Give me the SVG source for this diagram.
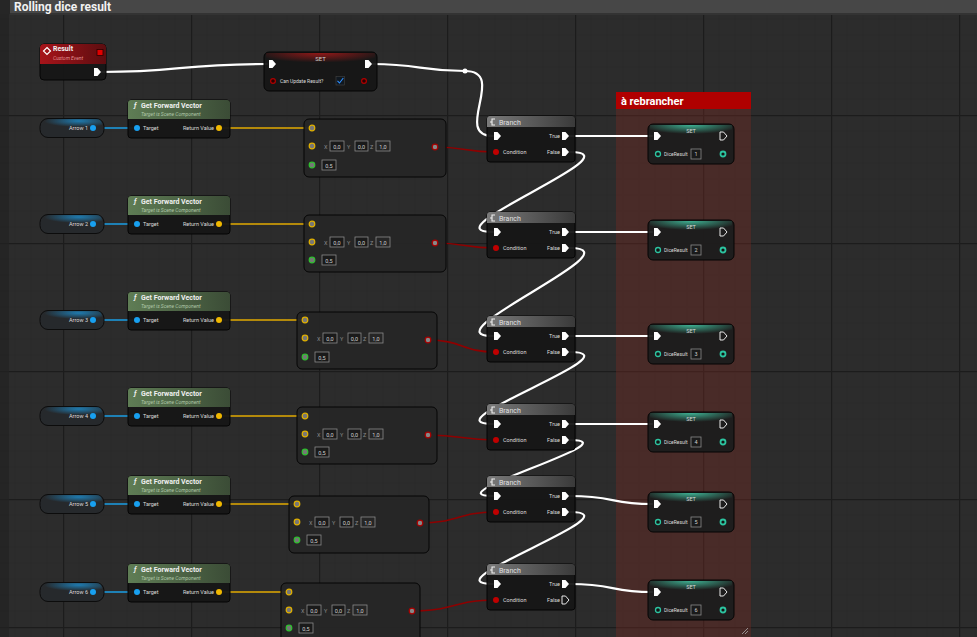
<svg xmlns="http://www.w3.org/2000/svg" width="977" height="637" viewBox="0 0 977 637">
<defs>
<pattern id="grid" x="63" y="115" width="128" height="128" patternUnits="userSpaceOnUse">
<rect width="128" height="128" fill="#2c2c2c"/>
<path d="M16 0V128M32 0V128M48 0V128M64 0V128M80 0V128M96 0V128M112 0V128M0 16H128M0 32H128M0 48H128M0 64H128M0 80H128M0 96H128M0 112H128" stroke="#292929" stroke-width="1" fill="none"/>
<path d="M0.5 0V128M0 0.5H128" stroke="#1c1c1c" stroke-width="1.5" fill="none"/>
</pattern>
<linearGradient id="gGreen" x1="0" y1="0" x2="1" y2="0"><stop offset="0" stop-color="#5f7d55"/><stop offset="1" stop-color="#3b4c36"/></linearGradient>
<linearGradient id="gRed" x1="0" y1="0" x2="1" y2="0"><stop offset="0" stop-color="#a8141a"/><stop offset="1" stop-color="#5c0d10"/></linearGradient>
<linearGradient id="gGray" x1="0" y1="0" x2="1" y2="0"><stop offset="0" stop-color="#7a7a7a"/><stop offset="1" stop-color="#3a3a3a"/></linearGradient>
<radialGradient id="gSetRed" cx="0.5" cy="0" r="0.6"><stop offset="0" stop-color="#a01818" stop-opacity="0.9"/><stop offset="1" stop-color="#a01818" stop-opacity="0"/></radialGradient>
<radialGradient id="gSetTeal" cx="0.5" cy="0" r="0.6"><stop offset="0" stop-color="#3fb898" stop-opacity="0.95"/><stop offset="1" stop-color="#3fb898" stop-opacity="0"/></radialGradient>
<radialGradient id="gBlue" cx="0.6" cy="0.2" r="0.6"><stop offset="0" stop-color="#1d8fd0" stop-opacity="0.8"/><stop offset="1" stop-color="#1d8fd0" stop-opacity="0"/></radialGradient>
<path id="exec" d="M-3,-4 L0.5,-4 L4,0 L0.5,4 L-3,4 Z"/>
</defs>
<style>
text{font-family:Roboto,"Liberation Sans",Arial,sans-serif;fill:#d8d8d8}
.body{fill:#161616;stroke:#050505;stroke-width:1;fill-opacity:0.95}
.title{font-size:7px;font-weight:bold;fill:#f0f0f0}
.sub{font-size:5px;font-style:italic}
.lbl{font-size:5.5px;fill:#dcdcdc}
.val{font-size:5.5px;fill:#d0d0d0}
.box{fill:#1a1a1a;stroke:#8a8a8a;stroke-width:0.8}
.ex{fill:#ffffff}
.exo{fill:none;stroke:#ffffff;stroke-width:0.9}
.wexec{fill:none;stroke:#ffffff;stroke-width:2.2;stroke-linecap:round}
.wblue{fill:none;stroke:#1a9ee4;stroke-width:1.6}
.wyel{fill:none;stroke:#e2aa00;stroke-width:1.6}
.wred{fill:none;stroke:#8e0000;stroke-width:1.6}
.pblue{fill:#18a0f0}
.pyel{fill:#777;stroke:#e0b000;stroke-width:1.2}
.pgrn{fill:#777;stroke:#30c030;stroke-width:1.2}
.pred{fill:#888;stroke:#a80000;stroke-width:1.2}
.pteal{fill:#141414;stroke:#2cc4a0;stroke-width:1.3}
</style>

<!-- background -->
<rect width="977" height="637" fill="url(#grid)"/>
<rect x="0" y="0" width="9" height="637" fill="#222222" opacity="0.7"/>

<!-- comment: Rolling dice result -->
<g id="comment-rolling">
<rect x="0" y="0" width="977" height="14" fill="#262626"/>
<rect x="10" y="0" width="967" height="13" fill="#474747"/>
<rect x="10" y="13" width="967" height="2" fill="#333333"/>
<text x="14" y="10.5" style="font-size:12px;font-weight:bold;fill:#f2f2f2">Rolling dice result</text>
</g>

<!-- comment: à rebrancher -->
<g id="comment-rebrancher">
<rect x="616" y="92" width="135" height="545" fill="#7a2a22" fill-opacity="0.38"/>
<rect x="616" y="92" width="135" height="17" fill="#b00000"/>
<text x="621" y="105" style="font-size:11px;font-weight:bold;fill:#ffffff">à rebrancher</text>
<path d="M742,634 L748,628 M745,634 L748,631" stroke="#aaa" stroke-width="0.8"/>
</g>

<!-- connectors -->
<g id="connectors">
<!-- exec chain -->
<path class="wexec" d="M101,72 C180,72 180,64 267,64"/>
<path class="wexec" d="M372,64 C420,64 420,71 465,71"/>
<path class="wexec" d="M465,71 C508,71 452,136 493,136"/>
<circle cx="465" cy="71" r="2.5" fill="#ffffff"/>
<!-- false chain -->
<path class="wexec" d="M570,152 C640,152 425,232 493,232"/>
<path class="wexec" d="M570,248 C640,248 425,336 493,336"/>
<path class="wexec" d="M570,352 C640,352 425,424 493,424"/>
<path class="wexec" d="M570,440 C635,440 430,496 493,496"/>
<path class="wexec" d="M570,512 C640,512 425,584 493,584"/>
<!-- true to SET -->
<path class="wexec" d="M570,136 L652,136"/>
<path class="wexec" d="M570,232 L652,232"/>
<path class="wexec" d="M570,336 L652,336"/>
<path class="wexec" d="M570,424 L652,424"/>
<path class="wexec" d="M570,496 C615,496 610,504 652,504"/>
<path class="wexec" d="M570,584 C615,584 610,592 652,592"/>
<!-- blue -->
<path class="wblue" d="M93,128 L137,128"/>
<path class="wblue" d="M93,224 L137,224"/>
<path class="wblue" d="M93,320 L137,320"/>
<path class="wblue" d="M93,416 L137,416"/>
<path class="wblue" d="M93,504 L137,504"/>
<path class="wblue" d="M93,592 L137,592"/>
<!-- yellow -->
<path class="wyel" d="M219,128 L312,128"/>
<path class="wyel" d="M219,224 L312,224"/>
<path class="wyel" d="M219,320 L305,320"/>
<path class="wyel" d="M219,416 L305,416"/>
<path class="wyel" d="M219,504 L297,504"/>
<path class="wyel" d="M219,592 L289,592"/>
<!-- red -->
<path class="wred" d="M435,147 C465,147 465,152 495,152"/>
<path class="wred" d="M435,243 C465,243 465,248 495,248"/>
<path class="wred" d="M428,340 C462,340 462,352 495,352"/>
<path class="wred" d="M428,435 C462,435 462,440 495,440"/>
<path class="wred" d="M420,523 C458,523 458,512 495,512"/>
<path class="wred" d="M412,611 C454,611 454,600 495,600"/>
</g>

<!-- Result custom event -->
<g id="node-result">
<rect class="body" x="40" y="44" width="66" height="36" rx="4"/>
<path d="M40,64 V48 Q40,44 44,44 H102 Q106,44 106,48 V64 Z" fill="url(#gRed)"/>
<path d="M47,47.5 L50.5,51 L47,54.5 L43.5,51 Z" fill="none" stroke="#fff" stroke-width="1.2"/>
<text class="title" x="53" y="51">Result</text>
<text class="sub" x="53" y="60" style="fill:#e09090">Custom Event</text>
<rect x="97" y="49.5" width="6" height="6" fill="#e00000" stroke="#2a0000" stroke-width="0.8"/>
<use href="#exec" class="ex" x="97" y="72"/>
</g>

<!-- SET Can Update Result? -->
<g id="node-set-top">
<rect class="body" x="264" y="52" width="113" height="39" rx="5"/>
<rect x="266" y="53" width="109" height="16" fill="url(#gSetRed)"/>
<text x="320.5" y="61" text-anchor="middle" style="font-size:6px;fill:#d0d0d0">SET</text>
<use href="#exec" class="ex" x="272" y="64"/>
<use href="#exec" class="ex" x="368" y="64"/>
<circle cx="273" cy="81" r="2.4" fill="#2a0000" stroke="#b00000" stroke-width="1.2"/>
<text class="lbl" x="280" y="83" style="font-size:5px">Can Update Result?</text>
<rect x="336" y="76.5" width="8.5" height="8.5" fill="#101820" stroke="#444" stroke-width="0.6"/>
<path d="M337.5,80.8 L339.5,83 L343.3,78" fill="none" stroke="#2f8fff" stroke-width="1.1"/>
<circle cx="364" cy="81" r="2.4" fill="#2a0000" stroke="#b00000" stroke-width="1.2"/>
</g>

<!-- Arrow getters -->
<g id="node-arrow-1"><rect x="40" y="118.5" width="64" height="19" rx="8" fill="#26292c" stroke="#0c0c0c"/><rect x="44" y="119" width="58" height="10" rx="5" fill="url(#gBlue)"/><text class="lbl" x="88" y="130" text-anchor="end">Arrow 1</text><circle class="pblue" cx="93" cy="128" r="3"/></g>
<g id="node-arrow-2"><rect x="40" y="214.5" width="64" height="19" rx="8" fill="#26292c" stroke="#0c0c0c"/><rect x="44" y="215" width="58" height="10" rx="5" fill="url(#gBlue)"/><text class="lbl" x="88" y="226" text-anchor="end">Arrow 2</text><circle class="pblue" cx="93" cy="224" r="3"/></g>
<g id="node-arrow-3"><rect x="40" y="310.5" width="64" height="19" rx="8" fill="#26292c" stroke="#0c0c0c"/><rect x="44" y="311" width="58" height="10" rx="5" fill="url(#gBlue)"/><text class="lbl" x="88" y="322" text-anchor="end">Arrow 3</text><circle class="pblue" cx="93" cy="320" r="3"/></g>
<g id="node-arrow-4"><rect x="40" y="406.5" width="64" height="19" rx="8" fill="#26292c" stroke="#0c0c0c"/><rect x="44" y="407" width="58" height="10" rx="5" fill="url(#gBlue)"/><text class="lbl" x="88" y="418" text-anchor="end">Arrow 4</text><circle class="pblue" cx="93" cy="416" r="3"/></g>
<g id="node-arrow-5"><rect x="40" y="494.5" width="64" height="19" rx="8" fill="#26292c" stroke="#0c0c0c"/><rect x="44" y="495" width="58" height="10" rx="5" fill="url(#gBlue)"/><text class="lbl" x="88" y="506" text-anchor="end">Arrow 5</text><circle class="pblue" cx="93" cy="504" r="3"/></g>
<g id="node-arrow-6"><rect x="40" y="582.5" width="64" height="19" rx="8" fill="#26292c" stroke="#0c0c0c"/><rect x="44" y="583" width="58" height="10" rx="5" fill="url(#gBlue)"/><text class="lbl" x="88" y="594" text-anchor="end">Arrow 6</text><circle class="pblue" cx="93" cy="592" r="3"/></g>

<!-- Get Forward Vector nodes -->
<g id="node-gfv-1" transform="translate(128,100)"><rect class="body" x="0" y="0" width="102" height="38" rx="3"/><path d="M0,19 V3 Q0,0 3,0 H99 Q102,0 102,3 V19 Z" fill="url(#gGreen)"/><text class="title" x="6" y="8" style="font-style:italic">ƒ</text><text class="title" x="13" y="8">Get Forward Vector</text><text class="sub" x="13" y="16" style="fill:#b0c8a8">Target is Scene Component</text><circle class="pblue" cx="9" cy="28" r="3"/><text class="lbl" x="15" y="30">Target</text><text class="lbl" x="86" y="30" text-anchor="end">Return Value</text><circle cx="91" cy="28" r="3" fill="#f0b800"/></g>
<g id="node-gfv-2" transform="translate(128,196)"><rect class="body" x="0" y="0" width="102" height="38" rx="3"/><path d="M0,19 V3 Q0,0 3,0 H99 Q102,0 102,3 V19 Z" fill="url(#gGreen)"/><text class="title" x="6" y="8" style="font-style:italic">ƒ</text><text class="title" x="13" y="8">Get Forward Vector</text><text class="sub" x="13" y="16" style="fill:#b0c8a8">Target is Scene Component</text><circle class="pblue" cx="9" cy="28" r="3"/><text class="lbl" x="15" y="30">Target</text><text class="lbl" x="86" y="30" text-anchor="end">Return Value</text><circle cx="91" cy="28" r="3" fill="#f0b800"/></g>
<g id="node-gfv-3" transform="translate(128,292)"><rect class="body" x="0" y="0" width="102" height="38" rx="3"/><path d="M0,19 V3 Q0,0 3,0 H99 Q102,0 102,3 V19 Z" fill="url(#gGreen)"/><text class="title" x="6" y="8" style="font-style:italic">ƒ</text><text class="title" x="13" y="8">Get Forward Vector</text><text class="sub" x="13" y="16" style="fill:#b0c8a8">Target is Scene Component</text><circle class="pblue" cx="9" cy="28" r="3"/><text class="lbl" x="15" y="30">Target</text><text class="lbl" x="86" y="30" text-anchor="end">Return Value</text><circle cx="91" cy="28" r="3" fill="#f0b800"/></g>
<g id="node-gfv-4" transform="translate(128,388)"><rect class="body" x="0" y="0" width="102" height="38" rx="3"/><path d="M0,19 V3 Q0,0 3,0 H99 Q102,0 102,3 V19 Z" fill="url(#gGreen)"/><text class="title" x="6" y="8" style="font-style:italic">ƒ</text><text class="title" x="13" y="8">Get Forward Vector</text><text class="sub" x="13" y="16" style="fill:#b0c8a8">Target is Scene Component</text><circle class="pblue" cx="9" cy="28" r="3"/><text class="lbl" x="15" y="30">Target</text><text class="lbl" x="86" y="30" text-anchor="end">Return Value</text><circle cx="91" cy="28" r="3" fill="#f0b800"/></g>
<g id="node-gfv-5" transform="translate(128,476)"><rect class="body" x="0" y="0" width="102" height="38" rx="3"/><path d="M0,19 V3 Q0,0 3,0 H99 Q102,0 102,3 V19 Z" fill="url(#gGreen)"/><text class="title" x="6" y="8" style="font-style:italic">ƒ</text><text class="title" x="13" y="8">Get Forward Vector</text><text class="sub" x="13" y="16" style="fill:#b0c8a8">Target is Scene Component</text><circle class="pblue" cx="9" cy="28" r="3"/><text class="lbl" x="15" y="30">Target</text><text class="lbl" x="86" y="30" text-anchor="end">Return Value</text><circle cx="91" cy="28" r="3" fill="#f0b800"/></g>
<g id="node-gfv-6" transform="translate(128,564)"><rect class="body" x="0" y="0" width="102" height="38" rx="3"/><path d="M0,19 V3 Q0,0 3,0 H99 Q102,0 102,3 V19 Z" fill="url(#gGreen)"/><text class="title" x="6" y="8" style="font-style:italic">ƒ</text><text class="title" x="13" y="8">Get Forward Vector</text><text class="sub" x="13" y="16" style="fill:#b0c8a8">Target is Scene Component</text><circle class="pblue" cx="9" cy="28" r="3"/><text class="lbl" x="15" y="30">Target</text><text class="lbl" x="86" y="30" text-anchor="end">Return Value</text><circle cx="91" cy="28" r="3" fill="#f0b800"/></g>

<!-- Dot product nodes -->
<g id="node-dot-1" transform="translate(304,119)"><rect class="body" x="0" y="0" width="142" height="58" rx="5" style="fill:#262626"/><circle class="pyel" cx="8" cy="9" r="2.8"/><circle class="pyel" cx="8" cy="27" r="2.8"/><text class="val" x="20" y="29.5" style="fill:#888">X</text><rect class="box" x="26" y="22" width="14" height="10"/><text class="val" x="33" y="29.5" text-anchor="middle">0,0</text><text class="val" x="43" y="29.5" style="fill:#888">Y</text><rect class="box" x="51" y="22" width="13" height="10"/><text class="val" x="57.5" y="29.5" text-anchor="middle">0,0</text><text class="val" x="66" y="29.5" style="fill:#888">Z</text><rect class="box" x="72" y="22" width="14" height="10" style="fill:none"/><text class="val" x="79" y="29.5" text-anchor="middle">1,0</text><circle class="pgrn" cx="8" cy="46" r="2.8"/><rect class="box" x="18" y="41" width="14" height="10"/><text class="val" x="25" y="48.5" text-anchor="middle">0,5</text><circle class="pred" cx="131" cy="28" r="2.8"/></g>
<g id="node-dot-2" transform="translate(304,215)"><rect class="body" x="0" y="0" width="142" height="57" rx="5" style="fill:#262626"/><circle class="pyel" cx="8" cy="9" r="2.8"/><circle class="pyel" cx="8" cy="27" r="2.8"/><text class="val" x="20" y="29.5" style="fill:#888">X</text><rect class="box" x="26" y="22" width="14" height="10"/><text class="val" x="33" y="29.5" text-anchor="middle">0,0</text><text class="val" x="43" y="29.5" style="fill:#888">Y</text><rect class="box" x="51" y="22" width="13" height="10"/><text class="val" x="57.5" y="29.5" text-anchor="middle">0,0</text><text class="val" x="66" y="29.5" style="fill:#888">Z</text><rect class="box" x="72" y="22" width="14" height="10" style="fill:none"/><text class="val" x="79" y="29.5" text-anchor="middle">1,0</text><circle class="pgrn" cx="8" cy="45" r="2.8"/><rect class="box" x="18" y="40" width="14" height="10"/><text class="val" x="25" y="47.5" text-anchor="middle">0,5</text><circle class="pred" cx="131" cy="28" r="2.8"/></g>
<g id="node-dot-3" transform="translate(297,312)"><rect class="body" x="0" y="0" width="140" height="57" rx="5" style="fill:#262626"/><circle class="pyel" cx="8" cy="8" r="2.8"/><circle class="pyel" cx="8" cy="26" r="2.8"/><text class="val" x="20" y="28.5" style="fill:#888">X</text><rect class="box" x="26" y="21" width="14" height="10"/><text class="val" x="33" y="28.5" text-anchor="middle">0,0</text><text class="val" x="43" y="28.5" style="fill:#888">Y</text><rect class="box" x="51" y="21" width="13" height="10"/><text class="val" x="57.5" y="28.5" text-anchor="middle">0,0</text><text class="val" x="66" y="28.5" style="fill:#888">Z</text><rect class="box" x="72" y="21" width="14" height="10" style="fill:none"/><text class="val" x="79" y="28.5" text-anchor="middle">1,0</text><circle class="pgrn" cx="8" cy="45" r="2.8"/><rect class="box" x="18" y="40" width="14" height="10"/><text class="val" x="25" y="47.5" text-anchor="middle">0,5</text><circle class="pred" cx="131" cy="28" r="2.8"/></g>
<g id="node-dot-4" transform="translate(297,407)"><rect class="body" x="0" y="0" width="140" height="57" rx="5" style="fill:#262626"/><circle class="pyel" cx="8" cy="9" r="2.8"/><circle class="pyel" cx="8" cy="27" r="2.8"/><text class="val" x="20" y="29.5" style="fill:#888">X</text><rect class="box" x="26" y="22" width="14" height="10"/><text class="val" x="33" y="29.5" text-anchor="middle">0,0</text><text class="val" x="43" y="29.5" style="fill:#888">Y</text><rect class="box" x="51" y="22" width="13" height="10"/><text class="val" x="57.5" y="29.5" text-anchor="middle">0,0</text><text class="val" x="66" y="29.5" style="fill:#888">Z</text><rect class="box" x="72" y="22" width="14" height="10" style="fill:none"/><text class="val" x="79" y="29.5" text-anchor="middle">1,0</text><circle class="pgrn" cx="8" cy="45" r="2.8"/><rect class="box" x="18" y="40" width="14" height="10"/><text class="val" x="25" y="47.5" text-anchor="middle">0,5</text><circle class="pred" cx="131" cy="28" r="2.8"/></g>
<g id="node-dot-5" transform="translate(289,496)"><rect class="body" x="0" y="0" width="140" height="57" rx="5" style="fill:#262626"/><circle class="pyel" cx="8" cy="8" r="2.8"/><circle class="pyel" cx="8" cy="26" r="2.8"/><text class="val" x="20" y="28.5" style="fill:#888">X</text><rect class="box" x="26" y="21" width="14" height="10"/><text class="val" x="33" y="28.5" text-anchor="middle">0,0</text><text class="val" x="43" y="28.5" style="fill:#888">Y</text><rect class="box" x="51" y="21" width="13" height="10"/><text class="val" x="57.5" y="28.5" text-anchor="middle">0,0</text><text class="val" x="66" y="28.5" style="fill:#888">Z</text><rect class="box" x="72" y="21" width="14" height="10" style="fill:none"/><text class="val" x="79" y="28.5" text-anchor="middle">1,0</text><circle class="pgrn" cx="8" cy="44" r="2.8"/><rect class="box" x="18" y="39" width="14" height="10"/><text class="val" x="25" y="46.5" text-anchor="middle">0,5</text><circle class="pred" cx="131" cy="27" r="2.8"/></g>
<g id="node-dot-6" transform="translate(281,583)"><rect class="body" x="0" y="0" width="139" height="60" rx="5" style="fill:#262626"/><circle class="pyel" cx="8" cy="9" r="2.8"/><circle class="pyel" cx="8" cy="27" r="2.8"/><text class="val" x="20" y="29.5" style="fill:#888">X</text><rect class="box" x="26" y="22" width="14" height="10"/><text class="val" x="33" y="29.5" text-anchor="middle">0,0</text><text class="val" x="43" y="29.5" style="fill:#888">Y</text><rect class="box" x="51" y="22" width="13" height="10"/><text class="val" x="57.5" y="29.5" text-anchor="middle">0,0</text><text class="val" x="66" y="29.5" style="fill:#888">Z</text><rect class="box" x="72" y="22" width="14" height="10" style="fill:none"/><text class="val" x="79" y="29.5" text-anchor="middle">1,0</text><circle class="pgrn" cx="8" cy="45" r="2.8"/><rect class="box" x="18" y="40" width="14" height="10"/><text class="val" x="25" y="47.5" text-anchor="middle">0,5</text><circle class="pred" cx="131" cy="28" r="2.8"/></g>

<!-- Branch nodes -->
<g id="node-branch-1" transform="translate(487,116)"><rect class="body" x="0" y="0" width="88" height="46" rx="3"/><path d="M0,11 V3 Q0,0 3,0 H85 Q88,0 88,3 V11 Z" fill="url(#gGray)"/><path d="M8,3 H5 V9 H8 M5,6 H3" fill="none" stroke="#eee" stroke-width="1.1"/><text class="title" x="12" y="8.5" style="font-weight:normal;fill:#e0e0e0">Branch</text><use href="#exec" class="ex" x="10" y="20"/><circle cx="9" cy="36" r="3" fill="#c00000"/><text class="lbl" x="16" y="38">Condition</text><text class="lbl" x="73" y="22" text-anchor="end">True</text><use href="#exec" class="ex" x="78" y="20"/><text class="lbl" x="73" y="38" text-anchor="end">False</text><use href="#exec" class="ex" x="78" y="36"/></g>
<g id="node-branch-2" transform="translate(487,212)"><rect class="body" x="0" y="0" width="88" height="46" rx="3"/><path d="M0,11 V3 Q0,0 3,0 H85 Q88,0 88,3 V11 Z" fill="url(#gGray)"/><path d="M8,3 H5 V9 H8 M5,6 H3" fill="none" stroke="#eee" stroke-width="1.1"/><text class="title" x="12" y="8.5" style="font-weight:normal;fill:#e0e0e0">Branch</text><use href="#exec" class="ex" x="10" y="20"/><circle cx="9" cy="36" r="3" fill="#c00000"/><text class="lbl" x="16" y="38">Condition</text><text class="lbl" x="73" y="22" text-anchor="end">True</text><use href="#exec" class="ex" x="78" y="20"/><text class="lbl" x="73" y="38" text-anchor="end">False</text><use href="#exec" class="ex" x="78" y="36"/></g>
<g id="node-branch-3" transform="translate(487,316)"><rect class="body" x="0" y="0" width="88" height="46" rx="3"/><path d="M0,11 V3 Q0,0 3,0 H85 Q88,0 88,3 V11 Z" fill="url(#gGray)"/><path d="M8,3 H5 V9 H8 M5,6 H3" fill="none" stroke="#eee" stroke-width="1.1"/><text class="title" x="12" y="8.5" style="font-weight:normal;fill:#e0e0e0">Branch</text><use href="#exec" class="ex" x="10" y="20"/><circle cx="9" cy="36" r="3" fill="#c00000"/><text class="lbl" x="16" y="38">Condition</text><text class="lbl" x="73" y="22" text-anchor="end">True</text><use href="#exec" class="ex" x="78" y="20"/><text class="lbl" x="73" y="38" text-anchor="end">False</text><use href="#exec" class="ex" x="78" y="36"/></g>
<g id="node-branch-4" transform="translate(487,404)"><rect class="body" x="0" y="0" width="88" height="46" rx="3"/><path d="M0,11 V3 Q0,0 3,0 H85 Q88,0 88,3 V11 Z" fill="url(#gGray)"/><path d="M8,3 H5 V9 H8 M5,6 H3" fill="none" stroke="#eee" stroke-width="1.1"/><text class="title" x="12" y="8.5" style="font-weight:normal;fill:#e0e0e0">Branch</text><use href="#exec" class="ex" x="10" y="20"/><circle cx="9" cy="36" r="3" fill="#c00000"/><text class="lbl" x="16" y="38">Condition</text><text class="lbl" x="73" y="22" text-anchor="end">True</text><use href="#exec" class="ex" x="78" y="20"/><text class="lbl" x="73" y="38" text-anchor="end">False</text><use href="#exec" class="ex" x="78" y="36"/></g>
<g id="node-branch-5" transform="translate(487,476)"><rect class="body" x="0" y="0" width="88" height="46" rx="3"/><path d="M0,11 V3 Q0,0 3,0 H85 Q88,0 88,3 V11 Z" fill="url(#gGray)"/><path d="M8,3 H5 V9 H8 M5,6 H3" fill="none" stroke="#eee" stroke-width="1.1"/><text class="title" x="12" y="8.5" style="font-weight:normal;fill:#e0e0e0">Branch</text><use href="#exec" class="ex" x="10" y="20"/><circle cx="9" cy="36" r="3" fill="#c00000"/><text class="lbl" x="16" y="38">Condition</text><text class="lbl" x="73" y="22" text-anchor="end">True</text><use href="#exec" class="ex" x="78" y="20"/><text class="lbl" x="73" y="38" text-anchor="end">False</text><use href="#exec" class="ex" x="78" y="36"/></g>
<g id="node-branch-6" transform="translate(487,564)"><rect class="body" x="0" y="0" width="88" height="46" rx="3"/><path d="M0,11 V3 Q0,0 3,0 H85 Q88,0 88,3 V11 Z" fill="url(#gGray)"/><path d="M8,3 H5 V9 H8 M5,6 H3" fill="none" stroke="#eee" stroke-width="1.1"/><text class="title" x="12" y="8.5" style="font-weight:normal;fill:#e0e0e0">Branch</text><use href="#exec" class="ex" x="10" y="20"/><circle cx="9" cy="36" r="3" fill="#c00000"/><text class="lbl" x="16" y="38">Condition</text><text class="lbl" x="73" y="22" text-anchor="end">True</text><use href="#exec" class="ex" x="78" y="20"/><text class="lbl" x="73" y="38" text-anchor="end">False</text><use href="#exec" class="exo" x="78" y="36"/></g>

<!-- SET DiceResult nodes -->
<g id="node-set-1" transform="translate(648,124)"><rect class="body" x="0" y="0" width="86" height="40" rx="5" style="fill:#1c1c1c"/><rect x="2" y="1" width="82" height="15" fill="url(#gSetTeal)"/><text x="43" y="9" text-anchor="middle" style="font-size:5.5px;fill:#d8d8d8">SET</text><use href="#exec" class="ex" x="9" y="12"/><use href="#exec" class="exo" x="75" y="12"/><circle class="pteal" cx="10" cy="30" r="2.5"/><text class="lbl" x="16" y="32" style="font-size:5px">DiceResult</text><rect class="box" x="43" y="25" width="10" height="10"/><text class="val" x="48" y="32.3" text-anchor="middle">1</text><circle class="pteal" cx="75" cy="30" r="2.5" style="stroke-width:1.8"/></g>
<g id="node-set-2" transform="translate(648,220)"><rect class="body" x="0" y="0" width="86" height="40" rx="5" style="fill:#1c1c1c"/><rect x="2" y="1" width="82" height="15" fill="url(#gSetTeal)"/><text x="43" y="9" text-anchor="middle" style="font-size:5.5px;fill:#d8d8d8">SET</text><use href="#exec" class="ex" x="9" y="12"/><use href="#exec" class="exo" x="75" y="12"/><circle class="pteal" cx="10" cy="30" r="2.5"/><text class="lbl" x="16" y="32" style="font-size:5px">DiceResult</text><rect class="box" x="43" y="25" width="10" height="10"/><text class="val" x="48" y="32.3" text-anchor="middle">2</text><circle class="pteal" cx="75" cy="30" r="2.5" style="stroke-width:1.8"/></g>
<g id="node-set-3" transform="translate(648,324)"><rect class="body" x="0" y="0" width="86" height="40" rx="5" style="fill:#1c1c1c"/><rect x="2" y="1" width="82" height="15" fill="url(#gSetTeal)"/><text x="43" y="9" text-anchor="middle" style="font-size:5.5px;fill:#d8d8d8">SET</text><use href="#exec" class="ex" x="9" y="12"/><use href="#exec" class="exo" x="75" y="12"/><circle class="pteal" cx="10" cy="30" r="2.5"/><text class="lbl" x="16" y="32" style="font-size:5px">DiceResult</text><rect class="box" x="43" y="25" width="10" height="10"/><text class="val" x="48" y="32.3" text-anchor="middle">3</text><circle class="pteal" cx="75" cy="30" r="2.5" style="stroke-width:1.8"/></g>
<g id="node-set-4" transform="translate(648,412)"><rect class="body" x="0" y="0" width="86" height="40" rx="5" style="fill:#1c1c1c"/><rect x="2" y="1" width="82" height="15" fill="url(#gSetTeal)"/><text x="43" y="9" text-anchor="middle" style="font-size:5.5px;fill:#d8d8d8">SET</text><use href="#exec" class="ex" x="9" y="12"/><use href="#exec" class="exo" x="75" y="12"/><circle class="pteal" cx="10" cy="30" r="2.5"/><text class="lbl" x="16" y="32" style="font-size:5px">DiceResult</text><rect class="box" x="43" y="25" width="10" height="10"/><text class="val" x="48" y="32.3" text-anchor="middle">4</text><circle class="pteal" cx="75" cy="30" r="2.5" style="stroke-width:1.8"/></g>
<g id="node-set-5" transform="translate(648,492)"><rect class="body" x="0" y="0" width="86" height="40" rx="5" style="fill:#1c1c1c"/><rect x="2" y="1" width="82" height="15" fill="url(#gSetTeal)"/><text x="43" y="9" text-anchor="middle" style="font-size:5.5px;fill:#d8d8d8">SET</text><use href="#exec" class="ex" x="9" y="12"/><use href="#exec" class="exo" x="75" y="12"/><circle class="pteal" cx="10" cy="30" r="2.5"/><text class="lbl" x="16" y="32" style="font-size:5px">DiceResult</text><rect class="box" x="43" y="25" width="10" height="10"/><text class="val" x="48" y="32.3" text-anchor="middle">5</text><circle class="pteal" cx="75" cy="30" r="2.5" style="stroke-width:1.8"/></g>
<g id="node-set-6" transform="translate(648,580)"><rect class="body" x="0" y="0" width="86" height="40" rx="5" style="fill:#1c1c1c"/><rect x="2" y="1" width="82" height="15" fill="url(#gSetTeal)"/><text x="43" y="9" text-anchor="middle" style="font-size:5.5px;fill:#d8d8d8">SET</text><use href="#exec" class="ex" x="9" y="12"/><use href="#exec" class="exo" x="75" y="12"/><circle class="pteal" cx="10" cy="30" r="2.5"/><text class="lbl" x="16" y="32" style="font-size:5px">DiceResult</text><rect class="box" x="43" y="25" width="10" height="10"/><text class="val" x="48" y="32.3" text-anchor="middle">6</text><circle class="pteal" cx="75" cy="30" r="2.5" style="stroke-width:1.8"/></g>
</svg>
